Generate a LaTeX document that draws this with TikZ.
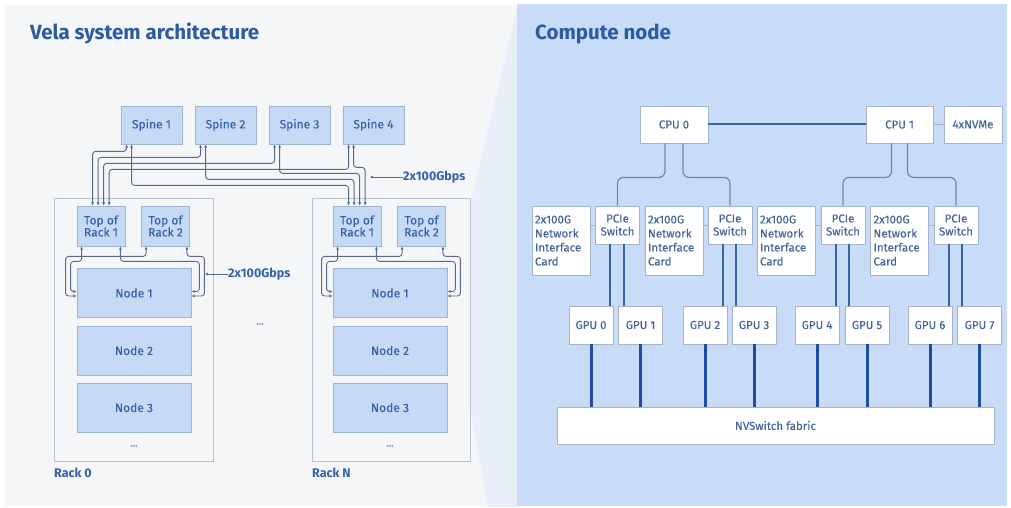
\documentclass[tikz,border=0pt]{standalone}
\usepackage{fontspec}
\setmainfont{Fira Sans}
\newfontfamily\lblfont{Fira Sans}[FakeBold=0.25]
\usetikzlibrary{arrows.meta,calc}
\definecolor{lbg}{HTML}{F5F6F8}
\definecolor{rbg}{HTML}{C8DCF7}
\definecolor{wedge}{HTML}{E9EFF8}
\definecolor{lfill}{HTML}{C6DAF6}
\definecolor{lborder}{HTML}{9DB4D6}
\definecolor{ltext}{HTML}{3562AA}
\definecolor{rborder}{HTML}{A3B4CB}
\definecolor{rtext}{HTML}{45649A}
\definecolor{titlec}{HTML}{2C5BA3}
\definecolor{rackc}{HTML}{B9C1CC}
\definecolor{linkc}{HTML}{56698A}
\definecolor{cpuline}{HTML}{6C88B4}
\definecolor{busc}{HTML}{3A62AA}
\definecolor{gpuc}{HTML}{1D4EA3}
\definecolor{dotc}{HTML}{6F7F96}
\begin{document}
\begin{tikzpicture}[x=1pt,y=-1pt,
  lbox/.style={draw=lborder, fill=lfill, text=ltext, line width=0.8pt, inner sep=0pt, font=\lblfont\fontsize{12}{14}\selectfont, align=center},
  rbox/.style={draw=rborder, fill=white, text=rtext, line width=0.8pt, inner sep=0pt, font=\lblfont\fontsize{11.5}{14}\selectfont, align=center},
  nicbox/.style={rbox, align=left, text width=52pt, inner xsep=3pt, minimum width=58pt, minimum height=69pt},
  rackbox/.style={draw=rackc, fill=lbg, line width=1pt, inner sep=0pt},
  titletext/.style={text=titlec, font=\bfseries\fontsize{20.5}{24}\selectfont, inner sep=0pt},
  racktext/.style={text=ltext, font=\bfseries\fontsize{12.5}{15}\selectfont, inner sep=0pt},
  bwtext/.style={text=ltext, font=\bfseries\fontsize{12.5}{15}\selectfont, inner sep=0pt},
  dots/.style={text=dotc, font=\lblfont\fontsize{10}{11}\selectfont, inner sep=0pt},
  link/.style={draw=linkc, line width=0.9pt, rounded corners=3pt, {Latex[length=3.2pt,width=3pt]}-{Latex[length=3.2pt,width=3pt]}},
  pointer/.style={draw=linkc, line width=0.7pt},
  cpulink/.style={draw=cpuline, line width=1.2pt, rounded corners=6pt},
  buslink/.style={draw=busc, line width=2pt},
  thinlink/.style={draw=rborder, line width=1pt},
  gpulink/.style={draw=gpuc, line width=3pt}
]
\useasboundingbox (0,0) rectangle (1011,508);
\fill[white] (0,0) rectangle (1011,508);
% panels
\fill[lbg] (5,5) rectangle (517,506);
\begin{scope}
  \clip (5,5) rectangle (517,506);
  \fill[wedge] (455,268) -- (519,0) -- (519,690) -- (455,318) -- cycle;
\end{scope}
\fill[rbg] (517,4) rectangle (1007,506);

% titles
\node[titletext, anchor=base west] (title1) at (30,40) {Vela system architecture};
\node[titletext, anchor=base west] (title2) at (535,40) {Compute node};

% ---------- left: racks
\node[rackbox, minimum width=159pt, minimum height=263pt] (rack0) at (133.5,329.5) {};
\node[rackbox, minimum width=158pt, minimum height=263pt] (rackN) at (391,329.5) {};
\node[racktext, anchor=west] (lab0) at (54,473) {Rack 0};
\node[racktext, anchor=west] (labN) at (312,473) {Rack N};

% spines
\foreach \i/\x in {1/151.5,2/225.5,3/299.5,4/373.5}
  \node[lbox, minimum width=61pt, minimum height=38pt] (s\i) at (\x,125) {Spine \i};

% top of rack switches
\node[lbox, minimum width=48pt, minimum height=40pt] (t01) at (101,226) {Top of\\[-2pt]Rack 1};
\node[lbox, minimum width=48pt, minimum height=40pt] (t02) at (165.5,226) {Top of\\[-2pt]Rack 2};
\node[lbox, minimum width=48pt, minimum height=40pt] (tN1) at (357,226) {Top of\\[-2pt]Rack 1};
\node[lbox, minimum width=48pt, minimum height=40pt] (tN2) at (421.5,226) {Top of\\[-2pt]Rack 2};

% nodes
\foreach \i/\y in {1/293,2/350.5,3/407.5}{
  \node[lbox, minimum width=114pt, minimum height=49pt] (n0\i) at (134,\y) {Node \i};
  \node[lbox, minimum width=114pt, minimum height=49pt] (nN\i) at (390,\y) {Node \i};
}
\node[dots] (d0) at (134,446) {...};
\node[dots] (dN) at (390,446) {...};
\node[dots] (dm) at (260,324) {...};

% spine -> rack 0 ToR1
\draw[link] ([xshift=6pt]s1.south west) -- ++(0,7) -| ([xshift=16pt]t01.north west);
\draw[link] ([xshift=6pt]s2.south west) -- ++(0,13) -| ([xshift=21.5pt]t01.north west);
\draw[link] ([xshift=6pt]s3.south west) -- ++(0,19) -| ([xshift=27pt]t01.north west);
\draw[link] ([xshift=6pt]s4.south west) -- ++(0,25) -| ([xshift=32.5pt]t01.north west);
% spine -> rack N ToR1
\draw[link] ([xshift=11pt]s4.south west) -- ++(0,23) -| ([xshift=32.5pt]tN1.north west);
\draw[link] ([xshift=11pt]s3.south west) -- ++(0,29) -| ([xshift=27pt]tN1.north west);
\draw[link] ([xshift=11pt]s2.south west) -- ++(0,35) -| ([xshift=21.5pt]tN1.north west);
\draw[link] ([xshift=11pt]s1.south west) -- ++(0,41) -| ([xshift=16pt]tN1.north west);

% ToR -> Node 1 (both racks)
\foreach \r in {0,N}{
  \draw[link] ([xshift=5pt]t\r2.south west) -- ++(0,10) -| ([xshift=-11pt,yshift=-3pt]n\r1.west) -- ([yshift=-3pt]n\r1.west);
  \draw[link] ([xshift=5pt]t\r1.south west) -- ++(0,15) -| ([xshift=-6pt,yshift=1.5pt]n\r1.west) -- ([yshift=1.5pt]n\r1.west);
  \draw[link] ([xshift=-5pt]t\r1.south east) -- ++(0,15) -| ([xshift=8pt,yshift=1.5pt]n\r1.east) -- ([yshift=1.5pt]n\r1.east);
  \draw[link] ([xshift=-3pt]t\r2.south east) -- ++(0,10) -| ([xshift=13pt,yshift=-3pt]n\r1.east) -- ([yshift=-3pt]n\r1.east);
}

% bandwidth labels
\node[bwtext, anchor=west] (bw1) at (403,177) {2x100Gbps};
\coordinate (bw1dot) at (372,177);
\fill[linkc] (bw1dot) circle (1.3pt);
\draw[pointer] (bw1dot) -- (bw1.west);
\node[bwtext, anchor=west] (bw2) at (228,274) {2x100Gbps};
\coordinate (bw2dot) at (207,274);
\fill[linkc] (bw2dot) circle (1.3pt);
\draw[pointer] (bw2dot) -- (bw2.west);

% ---------- right: compute node
\node[rbox, minimum width=68pt, minimum height=37pt] (cpu0) at (674,124.5) {CPU 0};
\node[rbox, minimum width=67pt, minimum height=37pt] (cpu1) at (899.5,124.5) {CPU 1};
\node[rbox, minimum width=58pt, minimum height=37pt] (nvme) at (973,124.5) {4xNVMe};
\draw[buslink] (cpu0.east) -- (cpu1.west);
\draw[thinlink] (cpu1.east) -- (nvme.west);

\foreach \i/\nx/\px in {1/561/617.5, 2/674/730, 3/786/843, 4/899.5/956}{
  \node[nicbox] (nic\i) at (\nx,240.5) {2x100G\\Network\\Interface\\Card};
  \node[rbox, minimum width=44pt, minimum height=38pt] (p\i) at (\px,225) {PCIe\\[-1pt]Switch};
  \draw[thinlink] (p\i.west -| nic\i.east) -- (p\i.west);
}

\draw[cpulink] ([xshift=-9pt]cpu0.south) -- ++(0,34) -| (p1.north);
\draw[cpulink] ([xshift=9pt]cpu0.south) -- ++(0,34) -| (p2.north);
\draw[cpulink] ([xshift=-8pt]cpu1.south) -- ++(0,34) -| (p3.north);
\draw[cpulink] ([xshift=8pt]cpu1.south) -- ++(0,34) -| (p4.north);

\foreach \i/\x in {0/591,1/640.5,2/705,3/754,4/817,5/867,6/930,7/979.5}
  \node[rbox, minimum width=44pt, minimum height=38pt] (g\i) at (\x,325) {GPU \i};

\node[rbox, minimum width=437pt, minimum height=37pt] (nv) at (775.5,425.5) {NVSwitch fabric};

\foreach \p/\a/\b in {1/0/1, 2/2/3, 3/4/5, 4/6/7}{
  \draw[buslink] ([xshift=-7.5pt]p\p.south) -- ([xshift=-7.5pt]p\p.south |- g\a.north);
  \draw[buslink] ([xshift=6pt]p\p.south) -- ([xshift=6pt]p\p.south |- g\b.north);
}
\foreach \i in {0,...,7}
  \draw[gpulink] (g\i.south) -- (g\i.south |- nv.north);
\end{tikzpicture}
\end{document}
